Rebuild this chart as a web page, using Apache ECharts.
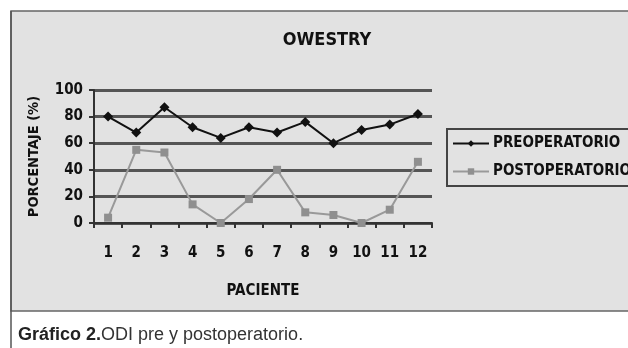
<!DOCTYPE html>
<html><head><meta charset="utf-8">
<script src="https://cdn.jsdelivr.net/npm/echarts@6/dist/echarts.min.js"></script>
<style>html,body{margin:0;padding:0;background:#fff}#c{width:628px;height:348px}</style>
</head><body><div id="c"></div>
<script>
var categories = ['1','2','3','4','5','6','7','8','9','10','11','12'];
var preoperatorio = [80,68,87,72,64,72,68,76,60,70,74,82];
var postoperatorio = [4,55,53,14,0,18,40,8,6,0,10,46];
var yTicks = [0,20,40,60,80,100];

var font = '"DejaVu Sans Condensed", "Liberation Sans Narrow", sans-serif';
var chart = echarts.init(document.getElementById('c'));
chart.setOption({
  animation: false,
  backgroundColor: '#fff',
  graphic: [
    {type:'rect', shape:{x:11,y:11,width:630,height:300}, style:{fill:'#e2e2e2', stroke:'#666', lineWidth:1.5}, z:-10},
    {type:'line', shape:{x1:11,y1:11,x2:11,y2:348}, style:{stroke:'#555', lineWidth:1.5}, z:-9},
    {type:'text', x:18, y:335, style:{rich:{b:{fontFamily:'"Liberation Sans", Arial, sans-serif', fontWeight:'bold', fontSize:18, fill:'#222'}, n:{fontFamily:'"Liberation Sans", Arial, sans-serif', fontSize:18, fill:'#333'}}, text:'{b|Gráfico 2.}{n|ODI pre y postoperatorio.}', verticalAlign:'middle'}}
  ],
  title: {text:'OWESTRY', left:322, top:26, textAlign:'center',
    textStyle:{fontFamily:font, fontWeight:'bold', fontSize:18, color:'#111'}},
  grid: {left:94, top:90, width:338, height:133},
  legend: {left:447, top:129, orient:'vertical', itemGap:13, itemWidth:36, itemHeight:8,
    padding:[7,6,7,5], borderColor:'#444', borderWidth:2, backgroundColor:'#e2e2e2',
    textStyle:{fontFamily:font, fontWeight:'bold', fontSize:15, color:'#111', padding:[0,0,0,-1]},
    data:['PREOPERATORIO','POSTOPERATORIO']},
  xAxis: {type:'category', data:categories, boundaryGap:true, name:'PACIENTE', nameLocation:'middle', nameGap:61,
    nameTextStyle:{fontFamily:font, fontWeight:'bold', fontSize:15, color:'#111'},
    axisLine:{lineStyle:{color:'#333', width:2}},
    axisTick:{show:true, length:5, lineStyle:{color:'#333', width:2}},
    axisLabel:{fontFamily:font, fontWeight:'bold', fontSize:15, color:'#111', margin:23}},
  yAxis: {type:'value', min:yTicks[0], max:yTicks[yTicks.length-1], interval:20,
    name:'PORCENTAJE (%)', nameLocation:'middle', nameGap:52, nameRotate:90,
    nameTextStyle:{fontFamily:font, fontWeight:'bold', fontSize:14.5, color:'#111'},
    axisLine:{show:true, lineStyle:{color:'#333', width:2}},
    axisTick:{show:true, length:5, lineStyle:{color:'#333', width:2}},
    axisLabel:{fontFamily:font, fontWeight:'bold', fontSize:15, color:'#111', margin:11},
    splitLine:{lineStyle:{color:'#555', width:3}}},
  series: [
    {name:'PREOPERATORIO', type:'line', data:preoperatorio, symbol:'diamond', symbolSize:10,
      lineStyle:{color:'#111', width:2}, itemStyle:{color:'#111'}, z:5},
    {name:'POSTOPERATORIO', type:'line', data:postoperatorio, symbol:'rect', symbolSize:8,
      lineStyle:{color:'#999', width:2}, itemStyle:{color:'#8f8f8f'}, z:4}
  ]
});
</script></body></html>
